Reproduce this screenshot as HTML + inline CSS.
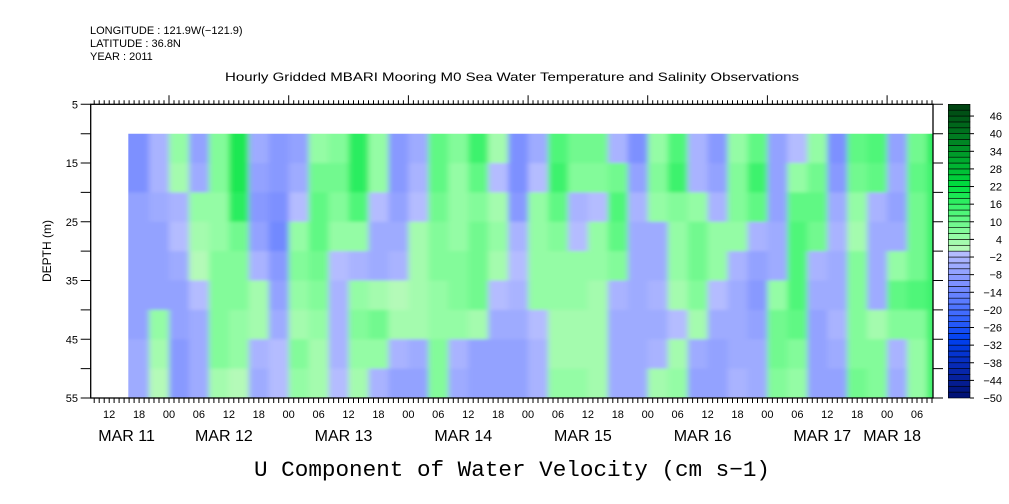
<!DOCTYPE html>
<html><head><meta charset="utf-8"><style>
html,body{margin:0;padding:0;background:#fff;}
svg{display:block;font-family:"Liberation Sans",sans-serif;}
</style></head><body>
<svg id="chart" width="1009" height="504" viewBox="0 0 1009 504" xmlns="http://www.w3.org/2000/svg">
<defs>
<clipPath id="dataclip"><rect x="128.3" y="133.7" width="804.7" height="264.3"/></clipPath>
<filter id="soft" x="-5%" y="-5%" width="110%" height="110%"><feGaussianBlur stdDeviation="3 1.5"/></filter>
</defs>
<g font-size="11" fill="#000">
<text x="90" y="34">LONGITUDE : 121.9W(−121.9)</text>
<text x="90" y="47">LATITUDE : 36.8N</text>
<text x="90" y="60">YEAR : 2011</text>
</g>
<text x="512" y="81" font-size="12" text-anchor="middle" textLength="574" lengthAdjust="spacingAndGlyphs">Hourly Gridded MBARI Mooring M0 Sea Water Temperature and Salinity Observations</text>
<text transform="translate(51,251) rotate(-90)" font-size="12" text-anchor="middle">DEPTH (m)</text>
<text x="512" y="476" font-family="Liberation Mono, monospace" font-size="22" text-anchor="middle" textLength="516" lengthAdjust="spacingAndGlyphs">U Component of Water Velocity (cm s−1)</text>
<g clip-path="url(#dataclip)"><g id="cells" filter="url(#soft)"></g></g>
<g id="axes"></g>
<g id="cbar"></g>
</svg>
<script>
// time columns: start hour (from Mar 11 00:00), 4-hour width
const colStartHours = [16,20,24,28,32,36,40,44,48,52,56,60,64,68,72,76,80,84,88,92,96,100,104,108,112,116,120,124,128,132,136,140,144,148,152,156,160,164,168,172,176];
const depthTops = [10,15,20,25,30,35,40,45,50];
const row10 = [-12,-4,4,-8,6,18,-6,-10,-8,4,6,16,4,-10,-6,10,6,14,2,-12,-6,12,8,8,-4,-12,4,12,-4,-10,4,10,-8,-2,4,-12,10,12,-8,8,16];
const row15 = [-12,-4,3,-6,6,18,-8,-10,-6,8,8,16,4,-10,-4,10,4,10,-2,-12,-2,14,6,6,8,-8,6,14,-4,-8,6,14,-8,4,8,-10,8,10,-6,10,14];
const row20 = [-8,-6,-4,4,4,16,-10,-12,-2,10,6,12,-2,-8,-2,8,4,6,2,-10,4,10,-4,-2,12,-4,4,6,4,-4,6,10,-8,10,10,-6,4,-4,-8,8,14];
const row25 = [-8,-8,-2,2,4,8,-8,-14,4,10,4,4,-6,-6,2,6,4,8,4,-4,4,6,-2,4,10,-6,-6,4,8,4,4,-4,-6,12,8,-4,2,-6,-6,8,14];
const row30 = [-8,-8,-6,0,6,6,-4,-10,6,8,-2,-4,-6,-4,2,6,6,8,2,-2,4,4,4,4,6,-6,-6,4,8,4,-4,-8,-6,12,-4,-6,6,-6,4,8,14];
const row35 = [-8,-8,-8,-2,6,6,2,-8,4,6,-4,4,2,0,2,4,6,8,-2,-4,4,4,4,2,-4,-6,-4,2,6,-2,-6,-10,4,12,-6,-6,6,-6,10,12,14];
const row40 = [-8,4,-8,-6,6,4,2,-6,2,4,-4,6,8,2,2,4,4,2,-6,-6,-2,2,2,2,-6,-6,-6,-2,2,-6,-6,-8,8,10,-8,-4,6,2,6,6,14];
const row45 = [-6,2,-10,-6,6,4,-4,-2,6,2,-4,4,4,-4,-6,6,-4,-8,-8,-8,-4,2,2,2,-6,-6,-4,2,-6,-8,-6,-6,8,6,-8,-6,6,6,-4,4,14];
const row50 = [-6,0,-10,-6,2,0,-6,-2,4,2,-2,2,-4,-8,-8,6,-6,-8,-8,-8,-4,4,4,2,-6,-6,2,4,-8,-8,-4,-6,6,4,-8,-8,8,6,-6,4,14];
const levels = [-50,-48,-46,-44,-42,-40,-38,-36,-34,-32,-30,-28,-26,-24,-22,-20,-18,-16,-14,-12,-10,-8,-6,-4,-2,0,2,4,6,8,10,12,14,16,18,20,22,24,26,28,30,32,34,36,38,40,42,44,46,48,50];
const cbarLabels = [46,40,34,28,22,16,10,4,-2,-8,-14,-20,-26,-32,-38,-44,-50];
const dayLabels = ["MAR 11","MAR 12","MAR 13","MAR 14","MAR 15","MAR 16","MAR 17","MAR 18"];
const dayLabelHours = [15.5,35,59,83,107,131,155,169];
const hourTickLabels = ["12","18","00","06","12","18","00","06","12","18","00","06","12","18","00","06","12","18","00","06","12","18","00","06","12","18","00","06"];
const depthTicks = [5,15,25,35,45,55];

const rows=[row10,row15,row20,row25,row30,row35,row40,row45,row50];
const NS="http://www.w3.org/2000/svg";
const X0=90.7, X1=933, Y0=104.3, Y1=398;
const H0=8.3, H1=177.2;
const xS=h=>X0+(h-H0)*(X1-X0)/(H1-H0);
const yS=d=>Y0+(d-5)*(Y1-Y0)/50;
function mk(tag,attrs,parent){const e=document.createElementNS(NS,tag);for(const k in attrs)e.setAttribute(k,attrs[k]);parent.appendChild(e);return e;}
const stops=[[-50,[0,16,112]],[-40,[8,40,176]],[-30,[0,64,240]],[-20,[72,112,255]],[-12,[120,140,255]],[-1,[180,188,255]],[1,[180,250,184]],[6,[140,252,160]],[14,[70,245,115]],[22,[0,224,64]],[34,[0,150,40]],[50,[0,64,16]]];
function colorFor(v){
  let c=Math.max(-49,Math.min(49,v));
  const i=Math.max(0,Math.min(levels.length-2,Math.floor((c+50)/2)));
  const mid=(levels[i]+levels[i+1])/2;
  for(let k=0;k<stops.length-1;k++){const a=stops[k],b=stops[k+1];
    if(mid>=a[0]&&mid<=b[0]){const t=(mid-a[0])/(b[0]-a[0]);return 'rgb('+a[1].map((q,j)=>Math.round(q+(b[1][j]-q)*t)).join(',')+')';}}
  return mid<0?'rgb(180,188,255)':'rgb(180,250,184)';
}
const cells=document.getElementById('cells');
rows.forEach((row,ri)=>{
  row.forEach((v,ci)=>{
    const h=colStartHours[ci];let x=xS(h);let x2=xS(h+4);
    if(ci===0) x-=10; if(ci===row.length-1) x2+=10;
    let y=yS(depthTops[ri]), y2=yS(depthTops[ri]+5);
    if(ri===0) y-=10; if(ri===rows.length-1) y2+=10;
    const r=mk('rect',{x:x.toFixed(2),y:y.toFixed(2),width:(x2-x+0.4).toFixed(2),height:(y2-y+0.4).toFixed(2),fill:colorFor(v)},cells);
    
    
  });
});
const ax=document.getElementById('axes');
const frame=mk('rect',{x:X0,y:Y0,width:X1-X0,height:Y1-Y0,fill:'none',stroke:'#000','stroke-width':1.3},ax);


let p='';
for(let h=9;h<=177;h++){const x=xS(h).toFixed(1);const mid=(h%24===0);
  p+='M'+x+' '+Y0+'V'+(Y0-(mid?9:4));
  p+='M'+x+' '+Y1+'V'+(Y1+5);}
for(let d=5;d<=55;d+=5){const y=yS(d).toFixed(1);p+='M'+X0+' '+y+'H'+(X0-10)+'M'+X1+' '+y+'H'+(X1+10);}
const tk=mk('path',{d:p,stroke:'#000','stroke-width':1,fill:'none'},ax);


hourTickLabels.forEach((s,i)=>{const t=mk('text',{x:xS(12+6*i),y:418,'font-size':11,'text-anchor':'middle'},ax);t.textContent=s;
  
  });
dayLabels.forEach((s,i)=>{const t=mk('text',{x:xS(dayLabelHours[i]),y:441,'font-size':16,'text-anchor':'middle'},ax);t.textContent=s;
  
  });
depthTicks.forEach(d=>{const t=mk('text',{x:78,y:yS(d)+4,'font-size':11,'text-anchor':'end'},ax);t.textContent=d;
  
  });
const cb=document.getElementById('cbar');
const CX=948.3,CW=21.7,CB0=104.3,CB1=398;
const bh=(CB1-CB0)/(levels.length-1);
for(let i=0;i<levels.length-1;i++){
  const y=CB1-(i+1)*bh;
  const r=mk('rect',{x:CX,y:y.toFixed(2),width:CW,height:bh.toFixed(2),fill:colorFor(levels[i]+1),stroke:'#000','stroke-width':0.6},cb);
  
  
}
cbarLabels.forEach(v=>{const y=CB1-(v+50)/100*(CB1-CB0);
  const l=mk('line',{x1:CX+CW,x2:CX+CW+4,y1:y,y2:y,stroke:'#000'},cb);
  
  
  const t=mk('text',{x:1002,y:y+4,'font-size':11,'text-anchor':'end'},cb);t.textContent=(v<0?'−':'')+Math.abs(v);
  
  });
</script>
</body></html>
